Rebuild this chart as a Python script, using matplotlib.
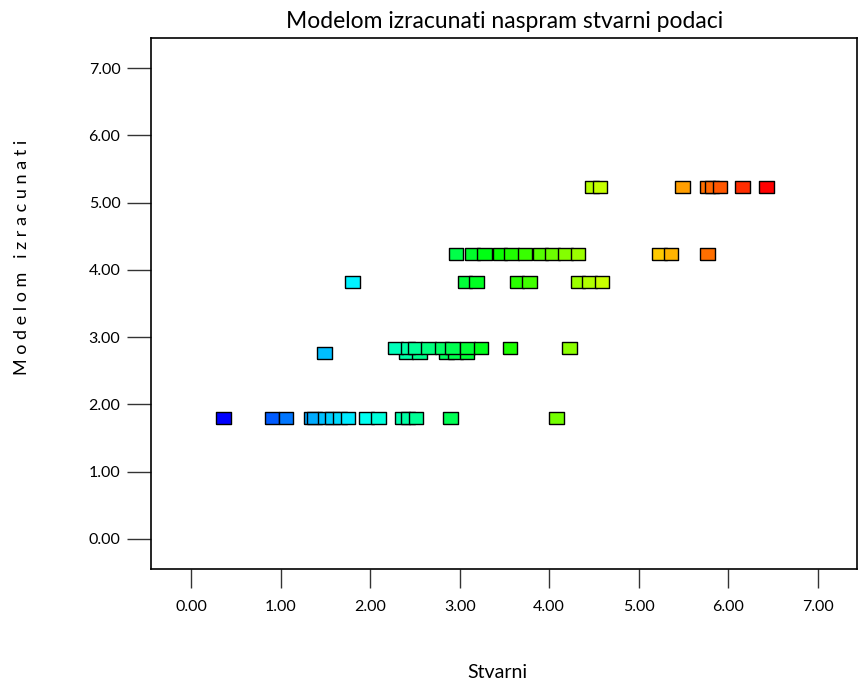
import matplotlib
matplotlib.use("Agg")
import matplotlib.pyplot as plt
import numpy as np
from matplotlib.colors import hsv_to_rgb

stvarni = [0.36, 0.90, 1.06, 1.34, 1.38, 1.50, 1.58, 1.66, 1.75, 1.96, 2.09, 2.36, 2.42, 2.51, 2.90, 4.08,
           1.49, 2.40, 2.55, 2.85, 2.95, 3.08,
           2.28, 2.42, 2.50, 2.65, 2.80, 2.92, 3.09, 3.24, 3.56, 4.23,
           1.80, 3.06, 3.19, 3.64, 3.78, 4.32, 4.45, 4.59,
           2.96, 3.14, 3.28, 3.45, 3.58, 3.73, 3.90, 4.04, 4.18, 4.32, 5.23, 5.36, 5.77,
           4.48, 4.57, 5.49, 5.77, 5.82, 5.91, 6.16, 6.43]
model = [1.80] * 16 + [2.77] * 6 + [2.84] * 10 + [3.82] * 8 + [4.24] * 13 + [5.23] * 8

x = np.array(stvarni)
y = np.array(model)

# colour goes from blue to red with the actual value
t = (x - x.min()) / (x.max() - x.min())
hsv = np.stack([(1 - t) * 240 / 360, np.ones_like(t), np.ones_like(t)], axis=1)
colors = hsv_to_rgb(hsv)

plt.rcParams['font.family'] = ['Lato', 'DejaVu Sans']

fig = plt.figure(figsize=(8.58, 6.82), dpi=100)
ax = fig.add_axes([151 / 858, 1 - 569 / 682, 706 / 858, 531 / 682])

box = [(-1, -0.82), (1, -0.82), (1, 0.82), (-1, 0.82), (-1, -0.82)]
ax.scatter(x, y, c=colors, marker=box, s=110, edgecolors='black', linewidths=1.0, zorder=3)

ax.set_xlim(-0.45, 7.44)
ax.set_ylim(-0.45, 7.45)
ticks = np.arange(0, 8)
ax.set_xticks(ticks)
ax.set_yticks(ticks)
ax.set_xticklabels([f"{v:.2f}" for v in ticks])
ax.set_yticklabels([f"{v:.2f}" for v in ticks])
ax.tick_params(direction='out', length=14, width=1, labelsize=11.5, pad=8, color='#333333')
ax.tick_params(axis='y', length=17, pad=5)
for s in ax.spines.values():
    s.set_linewidth(1.2)

fig.text(0.5 * (277 + 733) / 858, 1 - 22 / 682, "Modelom izracunati naspram stvarni podaci",
         ha='center', va='center', fontsize=16.5)
fig.text(497 / 858, 1 - 672 / 682, "Stvarni", ha='center', va='center', fontsize=14)
fig.text(22 / 858, 1 - 257 / 682, "M o d e l o m   i z r a c u n a t i", rotation=90,
         ha='center', va='center', fontsize=13)

fig.savefig("out.png", dpi=100)
